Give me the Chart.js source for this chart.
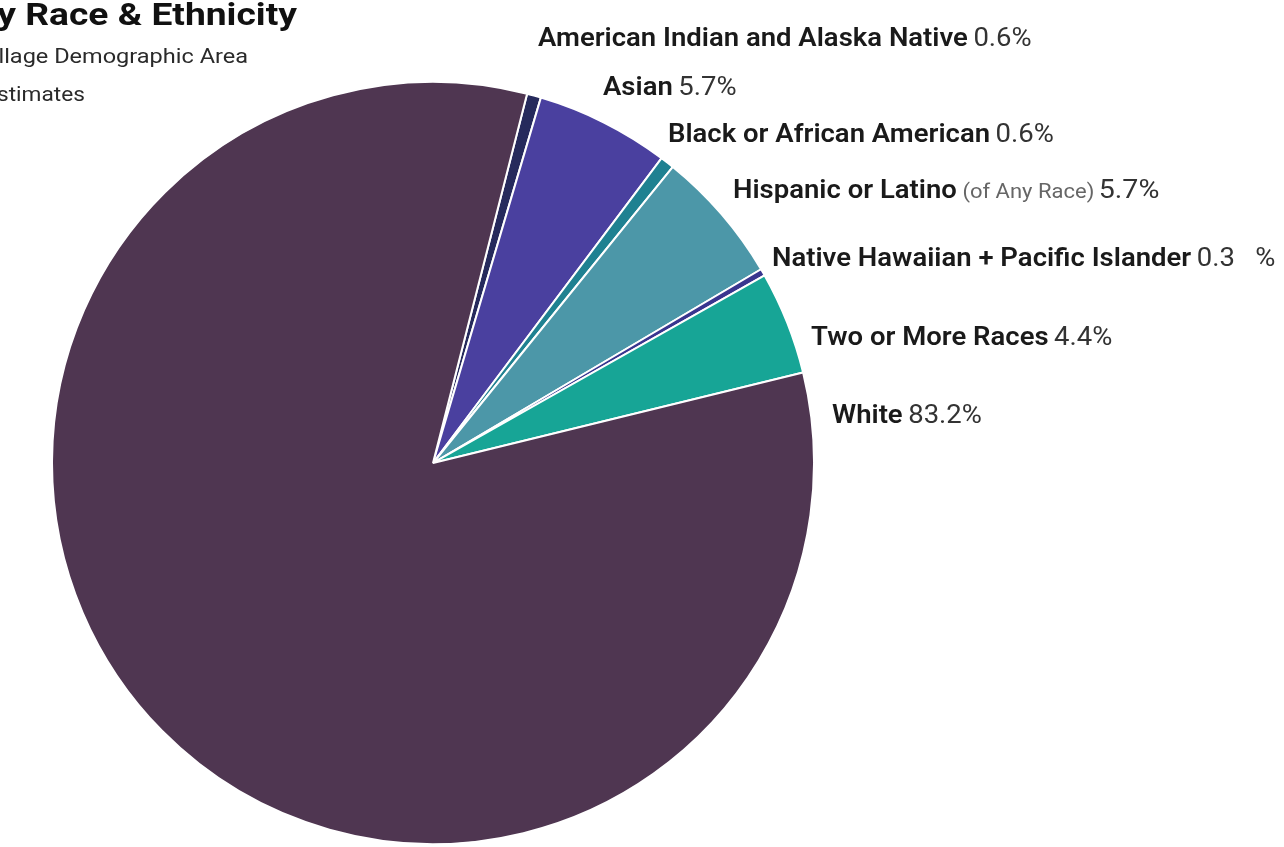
<!DOCTYPE html>
<html>
<head>
<meta charset="utf-8">
<script src="https://cdn.jsdelivr.net/npm/chart.js@4.4.0/dist/chart.umd.min.js"></script>
<style>
  html, body { margin: 0; padding: 0; background: #fff; overflow: hidden; }
  #wrap { position: relative; width: 1284px; height: 847px; }
</style>
</head>
<body>
<div id="wrap"><canvas id="raceChart" width="1284" height="847"></canvas></div>
<script>
// categories, clockwise from the top
const categories = [
  'American Indian and Alaska Native',
  'Asian',
  'Black or African American',
  'Hispanic or Latino',
  'Native Hawaiian + Pacific Islander',
  'Two or More Races',
  'White'
];
const shares = [0.6, 5.7, 0.6, 5.7, 0.3, 4.4, 83.2];
const valueLabels = ['0.6%', '5.7%', '0.6%', '5.7%', '0.3   %', '4.4%', '83.2%'];
const notes = ['', '', '', '(of Any Race)', '', '', ''];
const colors = ['#262a5c', '#4a409f', '#1f8191', '#4c97a8', '#39358f', '#17a596', '#4f3651'];

// label placement (stair-step list on the right), x and baseline
const labelPos = [
  [538, 46], [603, 95], [668, 142], [733, 198], [772, 266], [811, 345], [832, 423]
];

const FONT = '"Roboto", "Noto Sans", sans-serif';
const SX = 1.1; // text is a bit wider than Roboto

const labelPlugin = {
  id: 'sideLabels',
  afterDraw(chart) {
    const c = chart.ctx;
    c.save();
    c.textBaseline = 'alphabetic';
    c.textAlign = 'left';
    categories.forEach((name, i) => {
      const [x0, y] = labelPos[i];
      c.save();
      c.translate(x0, y);
      c.scale(SX, 1);
      let x = 0;
      c.font = '600 25px ' + FONT;
      c.fillStyle = '#1a1a1a';
      c.fillText(name, x, 0);
      x += c.measureText(name).width + 5;
      if (notes[i]) {
        c.font = '400 20px ' + FONT;
        c.fillStyle = '#666';
        c.fillText(notes[i], x, 0);
        x += c.measureText(notes[i]).width + 4;
      }
      c.font = (notes[i] ? '400 26px ' : '400 25px ') + FONT;
      c.fillStyle = '#333';
      c.fillText(valueLabels[i], x, 0);
      c.restore();
    });

    // clipped title block at the top left
    c.textAlign = 'right';
    c.save();
    c.translate(297, 25);
    c.scale(1.2, 1);
    c.fillStyle = '#111';
    c.font = '700 31px ' + FONT;
    c.fillText('by Race & Ethnicity', 0, 0);
    c.restore();

    c.fillStyle = '#2a2a2a';
    c.font = '400 21px ' + FONT;
    c.save();
    c.translate(248, 63);
    c.scale(1.12, 1);
    c.fillText('Village Demographic Area', 0, 0);
    c.restore();
    c.save();
    c.translate(85, 101);
    c.scale(1.08, 1);
    c.fillText('Estimates', 0, 0);
    c.restore();
    c.restore();
  }
};

new Chart(document.getElementById('raceChart').getContext('2d'), {
  type: 'pie',
  data: {
    labels: categories,
    datasets: [{
      data: shares,
      backgroundColor: colors,
      borderColor: '#ffffff',
      borderWidth: 2
    }]
  },
  options: {
    responsive: false,
    animation: false,
    rotation: 14.3,
    layout: { padding: { left: 51, right: 469, top: 81, bottom: 2 } },
    plugins: {
      legend: { display: false },
      tooltip: { enabled: false }
    }
  },
  plugins: [labelPlugin]
});
</script>
</body>
</html>
